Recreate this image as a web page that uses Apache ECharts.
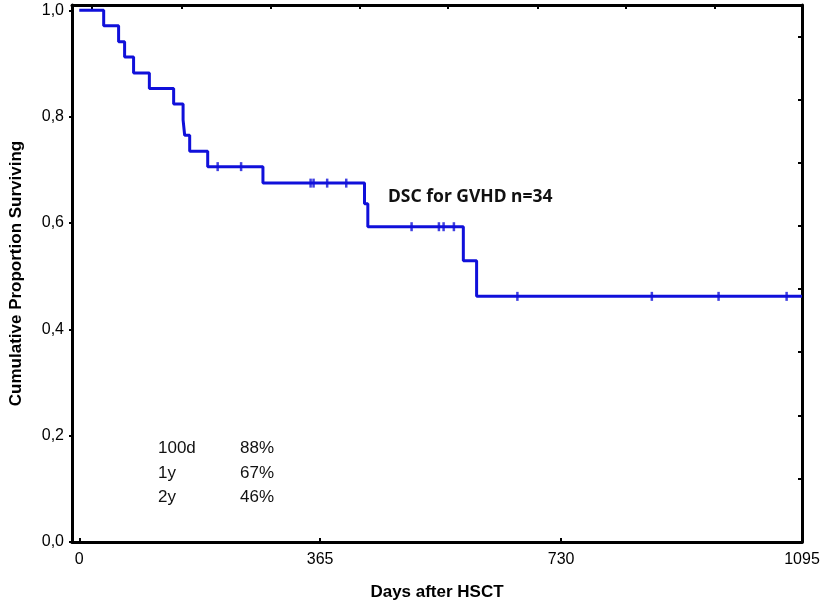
<!DOCTYPE html>
<html lang="en">

<head>
    <meta charset="utf-8">
    <title>DSC for GVHD survival</title>
    <script src="https://cdn.jsdelivr.net/npm/echarts@6/dist/echarts.min.js"></script>
    <style>
        html, body { margin: 0; padding: 0; background: #fff; }
    </style>
</head>

<body>
    <div id="main" style="width:827px;height:608px;"></div>

    <script type="text/javascript">

        // step points of the survival curve (day, proportion surviving after that day)
        var eventDays = [0, 37, 59.6, 68.7, 82.3, 106.2, 143, 157.3, 159.7, 167.3, 194.6, 278.3, 432.2, 437.2, 581.9, 602, 1095];
        var survival = [1.0, 0.971, 0.941, 0.912, 0.882, 0.853, 0.824, 0.794, 0.765, 0.735, 0.706, 0.675, 0.636, 0.593, 0.529, 0.462, 0.462];

        // censored observations
        var censorDays = [209.7, 245.2, 350.5, 355, 375.6, 404.5, 503.5, 544.9, 552, 567.6, 663.8, 867.5, 968.6, 1071.7];

        // axis ticks and labels
        var xTicks = [0, 365, 730, 1095];
        var yTicks = [0, 0.2, 0.4, 0.6, 0.8, 1.0];
        var topTicks = [19, 155, 290, 425, 559, 694, 828, 963];
        var rightTicks = [0.119, 0.238, 0.357, 0.476, 0.594, 0.713, 0.832, 0.951];

        // inset table
        var insetLabels = ['100d', '1y', '2y'];
        var insetValues = ['88%', '67%', '46%'];

        var blue = '#1010da';

        var survAt = function (day) {
            var s = survival[0];
            for (var i = 0; i < eventDays.length; i++) {
                if (eventDays[i] <= day) s = survival[i];
            }
            return s;
        };

        var curve = eventDays.map(function (d, i) { return [d, survival[i]]; });
        var censors = censorDays.map(function (d) { return [d, survAt(d)]; });

        var frame = { show: true, onZero: false, lineStyle: { color: '#000', width: 3 } };

        var graphics = [{
            type: 'text',
            left: 388,
            top: 188,
            style: { text: 'DSC for GVHD n=34', font: 'bold 17.5px "Noto Sans", sans-serif', fill: '#111' }
        }];
        insetLabels.forEach(function (lab, i) {
            graphics.push({
                type: 'text', left: 158, top: 440 + i * 24.5,
                style: { text: lab, font: '17px "Liberation Sans", Arial, sans-serif', fill: '#111' }
            });
            graphics.push({
                type: 'text', left: 240, top: 440 + i * 24.5,
                style: { text: insetValues[i], font: '17px "Liberation Sans", Arial, sans-serif', fill: '#111' }
            });
        });

        var myChart = echarts.init(document.getElementById('main'));

        myChart.setOption({
            animation: false,
            grid: { left: 72, right: 25, top: 5, bottom: 66 },
            xAxis: [{
                type: 'value',
                position: 'bottom',
                min: -11,
                max: 1095,
                axisLine: frame,
                splitLine: { show: false },
                axisTick: { inside: true, length: 4, customValues: xTicks, lineStyle: { color: '#000', width: 2 } },
                axisLabel: {
                    customValues: xTicks, margin: 10, color: '#000', fontSize: 16,
                    fontFamily: '"Liberation Sans", Arial, sans-serif',
                    formatter: function (v) { return String(v); }
                },
                name: 'Days after HSCT',
                nameLocation: 'middle',
                nameGap: 42,
                nameTextStyle: { color: '#000', fontSize: 17, fontWeight: 'bold', fontFamily: '"Liberation Sans", Arial, sans-serif' }
            }, {
                type: 'value',
                position: 'top',
                min: -11,
                max: 1095,
                axisLine: frame,
                splitLine: { show: false },
                axisTick: { inside: true, length: 4, customValues: topTicks, lineStyle: { color: '#000', width: 2 } },
                axisLabel: { show: false }
            }],
            yAxis: [{
                type: 'value',
                position: 'left',
                min: 0,
                max: 1.01,
                axisLine: frame,
                splitLine: { show: false },
                axisTick: { inside: false, length: 3, customValues: yTicks, lineStyle: { color: '#000', width: 2 } },
                axisLabel: {
                    customValues: yTicks, margin: 8, color: '#000', fontSize: 16,
                    fontFamily: '"Liberation Sans", Arial, sans-serif',
                    formatter: function (v) { return v.toFixed(1).replace('.', ','); }
                },
                name: 'Cumulative Proportion Surviving',
                nameLocation: 'middle',
                nameGap: 47,
                nameTextStyle: { color: '#000', fontSize: 17, fontWeight: 'bold', fontFamily: '"Liberation Sans", Arial, sans-serif' }
            }, {
                type: 'value',
                position: 'right',
                min: 0,
                max: 1.01,
                axisLine: frame,
                splitLine: { show: false },
                axisTick: { inside: true, length: 4, customValues: rightTicks, lineStyle: { color: '#000', width: 2 } },
                axisLabel: { show: false }
            }],
            series: [{
                name: 'DSC for GVHD',
                type: 'line',
                step: 'end',
                symbol: 'none',
                data: curve,
                lineStyle: { color: blue, width: 3 },
                z: 3
            }, {
                name: 'censored',
                type: 'scatter',
                symbol: 'rect',
                symbolSize: [2.5, 9],
                data: censors,
                itemStyle: { color: blue },
                z: 4
            }],
            graphic: graphics
        });

    </script>
</body>

</html>
